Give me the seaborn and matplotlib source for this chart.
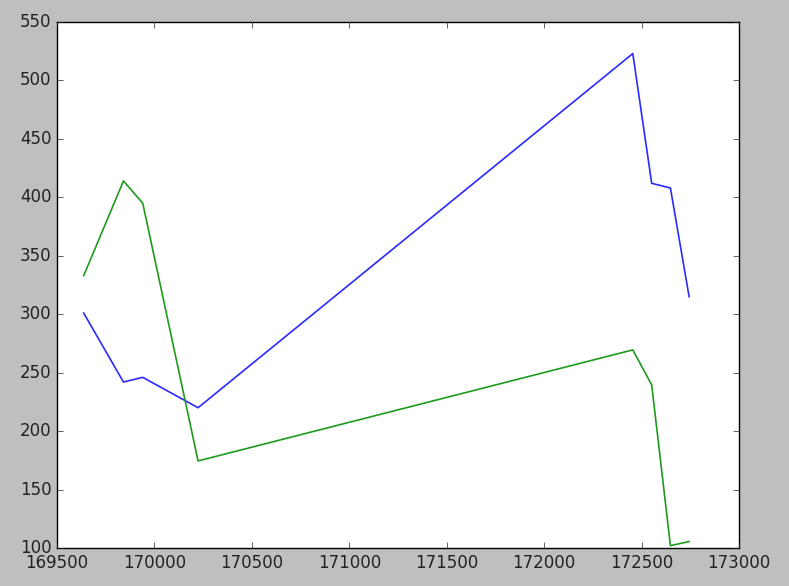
import numpy as np
import pandas as pd
import matplotlib
matplotlib.use("Agg")
import matplotlib.pyplot as plt
import seaborn as sns

# values
x_vals = [169637, 169841, 169940, 170224, 172455, 172552, 172648, 172744]
blue_vals = [301, 242, 246, 220, 523, 412, 408, 315]
green_vals = [333, 414, 395, 174.5, 269.5, 239.5, 102, 105.5]

df = pd.DataFrame({"x": x_vals, "blue": blue_vals, "green": green_vals})

plt.style.use("classic")
plt.rcParams["font.family"] = ["DejaVu Sans"]

fig = plt.figure(figsize=(7.89, 5.86), dpi=100, facecolor="#bfbfbf")
ax = fig.add_axes([57 / 789, 1 - 548 / 586, (739 - 57) / 789, (548 - 22) / 586])

sns.lineplot(data=df, x="x", y="blue", ax=ax, color="#2a2aff", linewidth=1.2)
sns.lineplot(data=df, x="x", y="green", ax=ax, color="#1f9a1f", linewidth=1.2)

ax.set_xlim(169500, 173000)
ax.set_ylim(100, 550)
ax.set_xticks(np.arange(169500, 173001, 500))
ax.set_yticks(np.arange(100, 551, 50))
ax.ticklabel_format(useOffset=False, style="plain")
ax.set_xlabel("")
ax.set_ylabel("")
ax.tick_params(labelsize=12, colors="#222222")

fig.savefig("out.png", dpi=100, facecolor=fig.get_facecolor())
